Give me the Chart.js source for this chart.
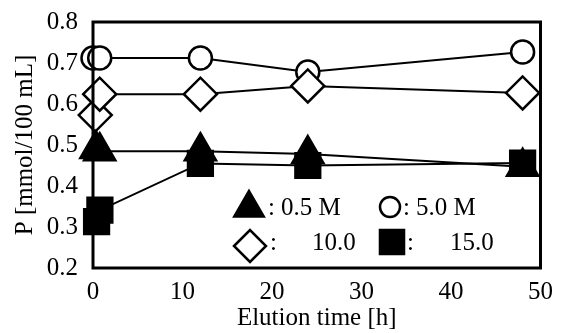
<!DOCTYPE html>
<html>
<head>
<meta charset="utf-8">
<script src="https://cdn.jsdelivr.net/npm/chart.js@4/dist/chart.umd.min.js"></script>
<style>
    html, body { margin: 0; padding: 0; background: #fff; }
    #wrap { width: 561px; height: 333px; }
</style>
</head>
<body>
<div id="wrap"><canvas id="pChart"></canvas></div>
<script>
// Elution time [h] and P [mmol/100 mL] for each concentration
const timeCircle = [0, 0.75, 12, 24, 48];
const pCircle = [0.712, 0.712, 0.712, 0.678, 0.727];      // 5.0 M

const timeDiamond = [0.25, 0.75, 12, 24, 48];
const pDiamond = [0.573, 0.624, 0.624, 0.644, 0.627];     // 10.0

const timeTriangle = [0.33, 0.75, 12, 24, 48];
const pTriangle = [0.49, 0.485, 0.485, 0.478, 0.447];     // 0.5 M

const timeSquare = [0.4, 0.77, 12, 24, 48];
const pSquare = [0.313, 0.341, 0.455, 0.45, 0.456];       // 15.0

const xTicks = [0, 10, 20, 30, 40, 50];
const yTicks = [0.2, 0.3, 0.4, 0.5, 0.6, 0.7, 0.8];

const legendNames = ['0.5 M', '5.0 M', '10.0', '15.0'];

const FONT = 'Liberation Serif, Times New Roman, serif';

function toPoints(xs, ys) {
    return xs.map((x, i) => ({ x: x, y: ys[i] }));
}

function series(label, xs, ys, style, fill, radius, order) {
    return {
        label: label,
        data: toPoints(xs, ys),
        showLine: true,
        borderColor: '#000',
        borderWidth: 2,
        pointStyle: style,
        pointRadius: radius,
        pointHoverRadius: radius,
        pointBackgroundColor: fill,
        pointBorderColor: '#000',
        pointBorderWidth: 2.5,
        clip: false,
        order: order
    };
}

// frame around the plot area
const framePlugin = {
    id: 'frame',
    afterDatasetsDraw(chart) {
        const a = chart.chartArea;
        const ctx = chart.ctx;
        ctx.save();
        ctx.strokeStyle = '#000';
        ctx.lineWidth = 3;
        ctx.strokeRect(a.left, a.top, a.right - a.left, a.bottom - a.top);
        ctx.restore();
    }
};

// legend drawn inside the plot
const legendPlugin = {
    id: 'innerLegend',
    afterDraw(chart) {
        const ctx = chart.ctx;
        const items = [
            { style: 'triangle', fill: '#000', r: 17, mx: 249, my: 208, cx: 268, tx: 281, ty: 208, name: legendNames[0] },
            { style: 'circle', fill: '#fff', r: 10, mx: 390, my: 207, cx: 403, tx: 416, ty: 208, name: legendNames[1] },
            { style: 'rectRot', fill: '#fff', r: 16, mx: 250, my: 246, cx: 270, tx: 312, ty: 243, name: legendNames[2] },
            { style: 'rect', fill: '#000', r: 17, mx: 392, my: 242, cx: 407, tx: 450, ty: 243, name: legendNames[3] }
        ];
        ctx.save();
        items.forEach(it => {
            ctx.fillStyle = it.fill;
            ctx.strokeStyle = '#000';
            ctx.lineWidth = 2.5;
            Chart.helpers.drawPoint(ctx, { pointStyle: it.style, radius: it.r, rotation: 0, borderWidth: 2.5 }, it.mx, it.my);
            ctx.fillStyle = '#000';
            ctx.font = '25px ' + FONT;
            ctx.textBaseline = 'middle';
            ctx.textAlign = 'left';
            ctx.fillText(':', it.cx, it.ty);
            ctx.fillText(it.name, it.tx, it.ty);
        });
        ctx.restore();
    }
};

function initChart() {
    const ctx = document.getElementById('pChart').getContext('2d');
    new Chart(ctx, {
        type: 'scatter',
        data: {
            datasets: [
                series('15.0', timeSquare, pSquare, 'rect', '#000', 17.5, 0),
                series('0.5 M', timeTriangle, pTriangle, 'triangle', '#000', 18, 1),
                series('10.0', timeDiamond, pDiamond, 'rectRot', '#fff', 16.5, 2),
                series('5.0 M', timeCircle, pCircle, 'circle', '#fff', 11.5, 3)
            ]
        },
        options: {
            responsive: true,
            maintainAspectRatio: false,
            animation: false,
            events: [],
            layout: {
                padding: { left: 0, right: 14, top: 22, bottom: 0 }
            },
            plugins: {
                legend: { display: false },
                tooltip: { enabled: false }
            },
            scales: {
                x: {
                    type: 'linear',
                    min: xTicks[0],
                    max: xTicks[xTicks.length - 1],
                    afterBuildTicks: scale => { scale.ticks = xTicks.map(v => ({ value: v })); },
                    afterFit: scale => {
                        scale.height = 65;
                        scale.paddingLeft = 0;
                        scale.paddingRight = 0;
                    },
                    grid: { display: false, drawTicks: false },
                    border: { display: false },
                    ticks: {
                        color: '#000',
                        padding: 9,
                        maxRotation: 0,
                        font: { family: FONT, size: 25 },
                        callback: v => String(v)
                    },
                    title: {
                        display: true,
                        text: 'Elution time [h]',
                        color: '#000',
                        padding: { top: 0, bottom: 0 },
                        font: { family: FONT, size: 25 }
                    }
                },
                y: {
                    type: 'linear',
                    min: yTicks[0],
                    max: yTicks[yTicks.length - 1],
                    afterBuildTicks: scale => { scale.ticks = yTicks.map(v => ({ value: v })); },
                    afterFit: scale => {
                        scale.width = 93;
                        scale.paddingTop = 0;
                        scale.paddingBottom = 0;
                    },
                    grid: { display: false, drawTicks: false },
                    border: { display: false },
                    ticks: {
                        color: '#000',
                        padding: 15,
                        font: { family: FONT, size: 25 },
                        callback: v => v.toFixed(1)
                    },
                    title: {
                        display: true,
                        text: 'P [mmol/100 mL]',
                        color: '#000',
                        padding: { top: 10, bottom: 0 },
                        font: { family: FONT, size: 25 }
                    }
                }
            }
        },
        plugins: [framePlugin, legendPlugin]
    });
}

document.addEventListener('DOMContentLoaded', initChart);
</script>
</body>
</html>
